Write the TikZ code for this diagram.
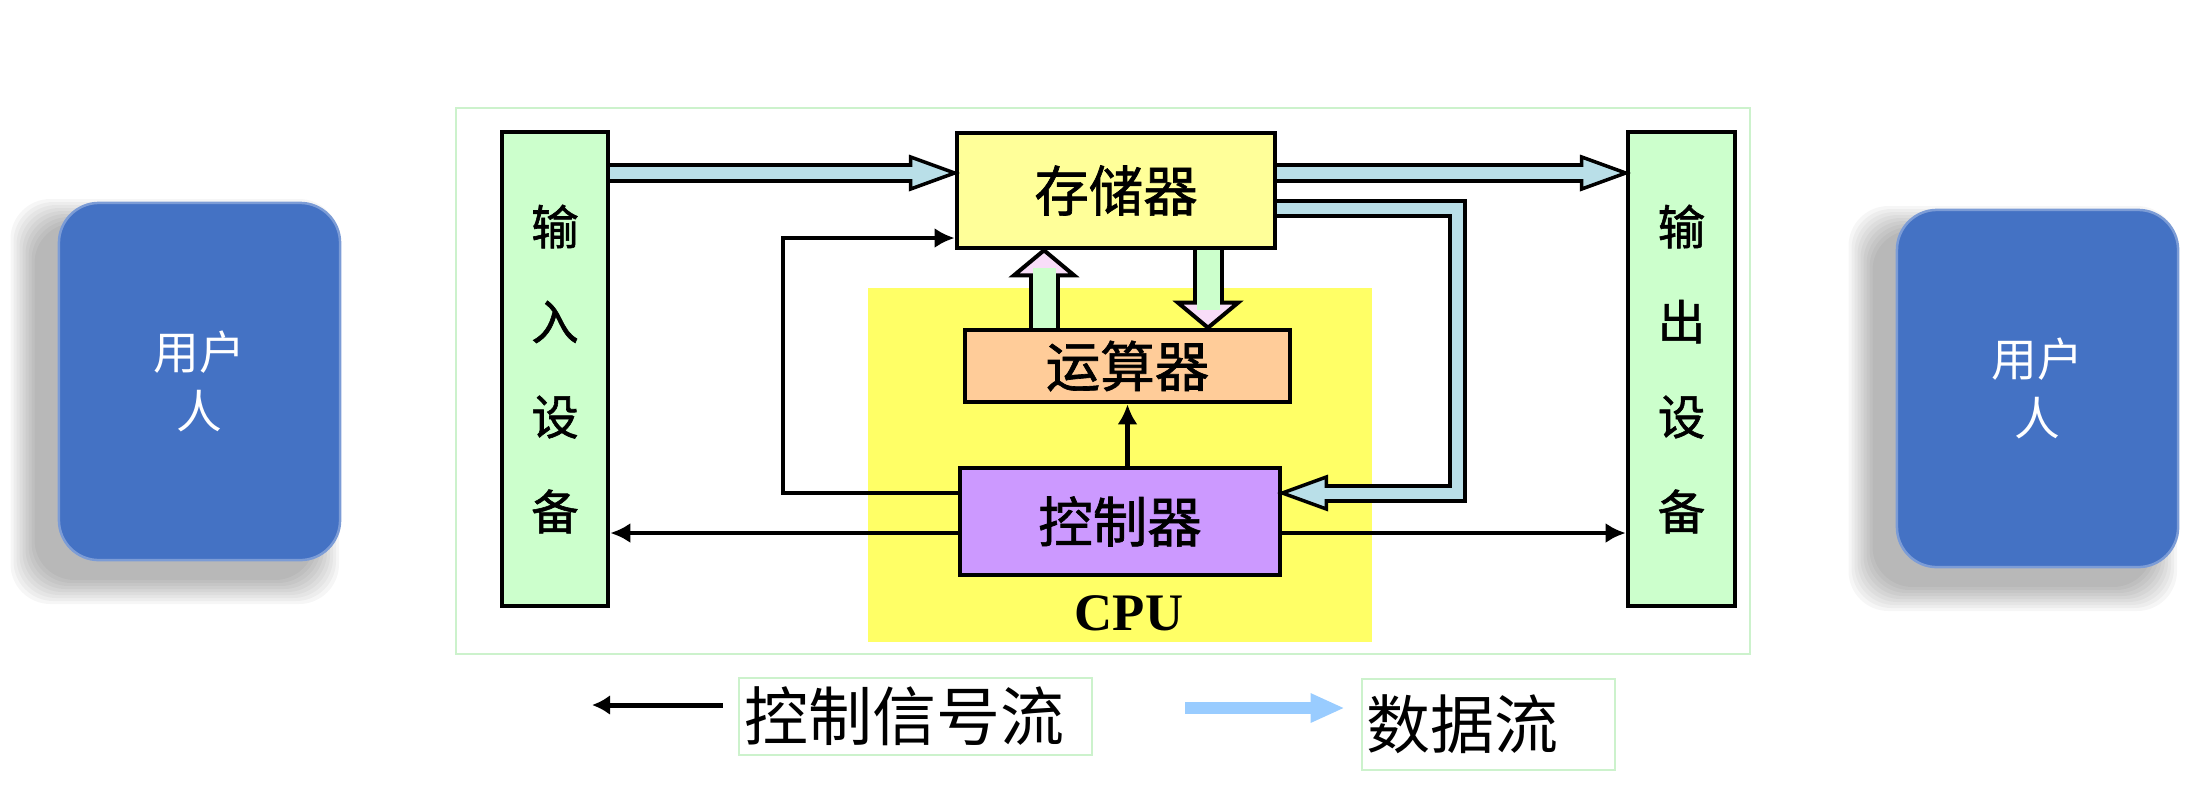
\documentclass[tikz,border=0pt]{standalone}
\usepackage{fontspec}
\newfontfamily\cjk{Noto Sans CJK SC}
\newfontfamily\cjkb{Noto Sans CJK SC}[FakeBold=1.2]
\newfontfamily\tms{Liberation Serif}
\usepackage{tikz}
\usetikzlibrary{arrows.meta,positioning,calc}
\definecolor{iofill}{HTML}{CCFFCC}
\definecolor{memfill}{HTML}{FFFF99}
\definecolor{alufill}{HTML}{FFCC99}
\definecolor{ctrlfill}{HTML}{CC99FF}
\definecolor{cpuyellow}{HTML}{FFFF66}
\definecolor{framegreen}{HTML}{CCF2CC}
\definecolor{pipeblue}{HTML}{B9DFE8}
\definecolor{headpink}{HTML}{F8DDF8}
\definecolor{legblue}{HTML}{99CCFF}
\definecolor{userblue}{HTML}{4472C4}

\begin{document}
\begin{tikzpicture}[x=0.01cm,y=-0.01cm,>=Latex,
  unit/.style={draw,line width=0.045cm,inner sep=0pt,font=\cjkb\fontsize{15.5pt}{15.5pt}\selectfont},
  iounit/.style={unit,fill=iofill,minimum width=1.06cm,minimum height=4.74cm,align=center,font=\cjkb\fontsize{13.5pt}{27pt}\selectfont},
  user/.style={rounded corners=0.4cm,fill=userblue,draw=userblue!70!white,line width=0.025cm,minimum width=2.81cm,minimum height=3.57cm,text=white,align=center,font=\cjk\fontsize{13pt}{17pt}\selectfont},
  legbox/.style={draw=framegreen,line width=0.025cm,inner sep=0pt,font=\cjk\fontsize{18.2pt}{18.2pt}\selectfont},
  ctl/.style={line width=0.045cm,-{Latex[length=0.2cm,width=0.2cm]}},
  pipeout/.style={line width=0.20cm},
  pipein/.style={line width=0.12cm,draw=pipeblue},
  fatout/.style={line width=0.31cm},
  fatin/.style={line width=0.23cm,draw=iofill},
  datahead/.pic={\filldraw[line width=0.035cm] (0,0) -- (-44,16) -- (-44,-16) -- cycle;},
  fathead/.pic={\filldraw[line width=0.04cm] (0,0) -- (-25,30) -- (-25,-30) -- cycle;}]
\useasboundingbox (0,0) rectangle (2207,787);
% frame and CPU area
\draw[framegreen,line width=0.025cm] (456,108) rectangle (1750,654);
\fill[cpuyellow] (868,288) rectangle (1372,642);
\node[font=\tms\bfseries\fontsize{15pt}{15pt}\selectfont] (cpulbl) at (1129,613) {CPU};
% units
\node[iounit] (inbox) at (555,369) {输\\入\\设\\备};
\node[iounit,minimum width=1.07cm] (outbox) at (1681.5,369) {输\\出\\设\\备};
\node[unit,fill=memfill,minimum width=3.18cm,minimum height=1.15cm] (mem) at (1116,190.5) {存储器};
\node[unit,fill=alufill,minimum width=3.25cm,minimum height=0.72cm] (alu) at (1127.5,366) {运算器};
\node[unit,fill=ctrlfill,minimum width=3.20cm,minimum height=1.07cm] (ctrl) at (1120,521.5) {控制器};
% lanes
\coordinate (toplane) at (0,173);
\coordinate (looplane) at (0,208);
\coordinate (memin) at (0,238);
\coordinate (lowlane) at (0,493);
\coordinate (outlane) at (0,533);
\coordinate (upx) at (1044,0);
\coordinate (dnx) at (1208,0);
\coordinate (sidex) at (783,0);
\coordinate (loopx) at (1457,0);
% data flow
\draw[pipeout] (inbox.east |- toplane) -- ($(mem.west |- toplane)+(-44,0)$);
\pic[fill=pipeblue] at (mem.west |- toplane) {datahead};
\draw[pipein] (inbox.east |- toplane) -- ($(mem.west |- toplane)+(-36,0)$);
\draw[pipeout] (mem.east |- toplane) -- ($(outbox.west |- toplane)+(-44,0)$);
\pic[fill=pipeblue] at (outbox.west |- toplane) {datahead};
\draw[pipein] (mem.east |- toplane) -- ($(outbox.west |- toplane)+(-36,0)$);
\draw[pipeout,line width=0.19cm] (mem.east |- looplane) -- (loopx |- looplane) -- (loopx |- lowlane) -- ($(ctrl.east |- lowlane)+(44,0)$);
\pic[fill=pipeblue,rotate=180] at (ctrl.east |- lowlane) {datahead};
\draw[pipein,line width=0.11cm] (mem.east |- looplane) -- (loopx |- looplane) -- (loopx |- lowlane) -- ($(ctrl.east |- lowlane)+(36,0)$);
\draw[fatout] (upx |- alu.north) -- ($(upx |- mem.south)+(0,25)$);
\pic[fill=headpink,rotate=90] at (upx |- mem.south) {fathead};
\draw[fatin] (upx |- alu.north) -- ($(upx |- mem.south)+(0,18)$);
\draw[fatout] (dnx |- mem.south) -- ($(dnx |- alu.north)+(0,-25)$);
\pic[fill=headpink,rotate=-90] at (dnx |- alu.north) {fathead};
\draw[fatin] (dnx |- mem.south) -- ($(dnx |- alu.north)+(0,-18)$);
% control signals
\draw[ctl] (ctrl.west |- lowlane) -- (sidex |- lowlane) -- (sidex |- memin) -- (mem.west |- memin);
\draw[ctl] (alu.south |- ctrl.north) -- (alu.south);
\draw[ctl] (ctrl.west |- outlane) -- (inbox.east |- outlane);
\draw[ctl] (ctrl.east |- outlane) -- (outbox.west |- outlane);
% users
\foreach \cx/\cy in {199.5/381.5,2037.5/388.5}
  \foreach \s in {0,...,8}
    \fill[black,opacity=0.035,rounded corners=0.4cm] ({\cx-165-\s*3},{\cy-158.5-\s*3}) rectangle ({\cx+115.5+\s*3},{\cy+198.5+\s*3});
\node[user] (userL) at (199.5,381.5) {用户\\人};
\node[user] (userR) at (2037.5,388.5) {用户\\人};
% legend
\node[legbox,minimum width=3.53cm,minimum height=0.77cm] (legctl) at (915.5,716.5) {控制信号流\kern0.22cm};
\node[legbox,minimum width=2.53cm,minimum height=0.91cm] (legdat) at (1488.5,724.5) {数据流\kern0.52cm};
\coordinate (legctlend) at (592,705);
\coordinate (legdatstart) at (1185,708);
\draw[line width=0.05cm,-{Latex[length=0.18cm,width=0.2cm]}] ($(legctl.west |- legctlend)+(-15,0)$) -- (legctlend);
\draw[legblue,line width=0.125cm,-{Triangle[length=0.34cm,width=0.27cm]}] (legdatstart) -- ($(legdat.west |- legdatstart)+(-16,0)$);
\end{tikzpicture}
\end{document}
